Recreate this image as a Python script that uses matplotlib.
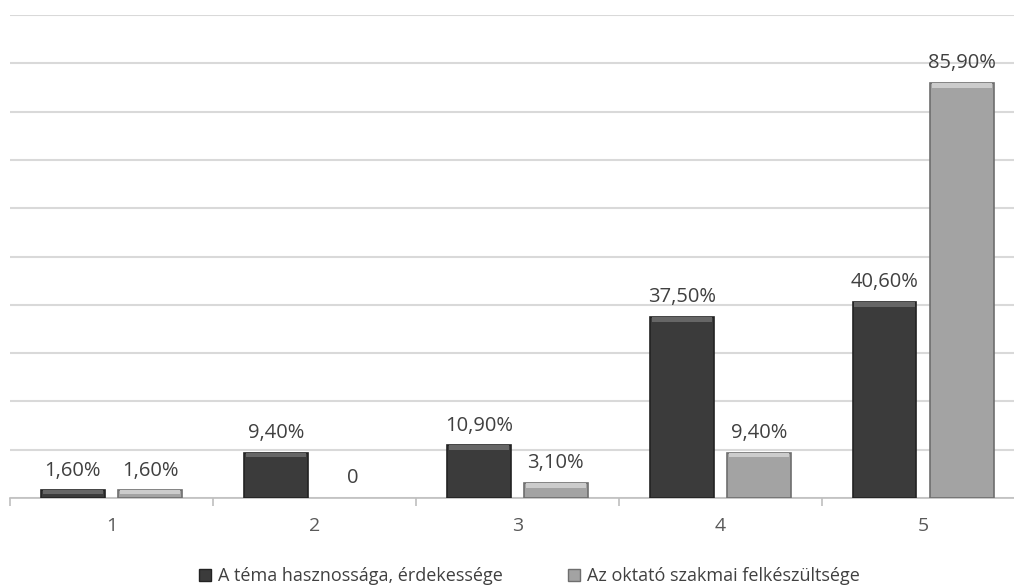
import matplotlib.pyplot as plt
import numpy as np
from matplotlib.patches import Patch

categories = ["1", "2", "3", "4", "5"]
series_names = ["A téma hasznossága, érdekessége", "Az oktató szakmai felkészültsége"]
tema = [1.6, 9.4, 10.9, 37.5, 40.6]
oktato = [1.6, 0.0, 3.1, 9.4, 85.9]

def fmt(v):
	if v == 0:
		return "0"
	return ("%.2f%%" % v).replace(".", ",")

plt.rcParams['font.family'] = ['Open Sans', 'DejaVu Sans']

fig = plt.figure(figsize=(10.14, 5.85), dpi=100)
ax = fig.add_axes([10/1014, 87/585, 1014.5/1014, 483/585])

x = np.arange(len(categories))
w = 0.315
off = 0.19
cols = ["#3b3b3b", "#a3a3a3"]
edges = ["#222222", "#6e6e6e"]
hl = ["#666666", "#cccccc"]

for vals, sgn, c, e, h in [(tema, -1, cols[0], edges[0], hl[0]), (oktato, 1, cols[1], edges[1], hl[1])]:
	pos = x + sgn*off
	for p, v in zip(pos, vals):
		if v > 0:
			ax.bar(p, v, width=w, color=c, edgecolor=e, linewidth=1.2, zorder=3)
			# bevel highlight at top
			bh = min(1.0, v*0.45)
			ax.bar(p, bh, bottom=v-bh, width=w*0.94, color=h, linewidth=0, zorder=4)
		ax.annotate(fmt(v), (p, v), xytext=(0, 7), textcoords="offset points",
			ha="center", va="bottom", fontsize=14.5, color="#404040", zorder=5)

ax.set_xlim(-0.5, 4.5)
ax.set_ylim(0, 100)
ax.set_yticks(np.arange(0, 101, 10))
ax.yaxis.grid(True, color="#d9d9d9", linewidth=1.5, zorder=0)
ax.set_yticklabels([])
ax.tick_params(axis="y", length=0)
for s in ["top", "right", "left"]:
	ax.spines[s].set_visible(False)
ax.spines["bottom"].set_color("#bfbfbf")
ax.spines["bottom"].set_linewidth(1.2)

ax.set_xticks(x)
ax.set_xticklabels(categories, fontsize=14, color="#595959")
ax.tick_params(axis="x", length=0, pad=14)
ax.set_xticks(np.arange(-0.5, 4.6, 1), minor=True)
ax.tick_params(axis="x", which="minor", length=6, color="#bfbfbf", width=1.2)

handles = [Patch(facecolor=cols[0], edgecolor=edges[0]), Patch(facecolor=cols[1], edgecolor=edges[1])]
fig.legend(handles, series_names, loc="center", bbox_to_anchor=(0.522, 9/585), ncol=2,
	frameon=False, fontsize=13, handlelength=0.65, handleheight=0.65, handletextpad=0.4,
	columnspacing=3.6, labelcolor="#404040")

fig.savefig("out.png", dpi=100)
